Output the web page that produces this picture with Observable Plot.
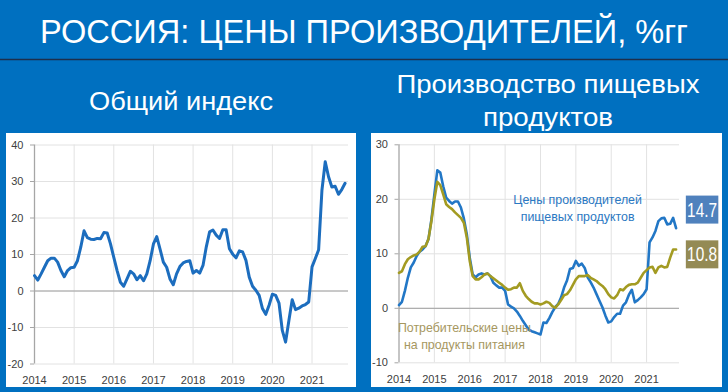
<!DOCTYPE html>
<html><head><meta charset="utf-8">
<script src="https://cdn.jsdelivr.net/npm/d3@7"></script>
<script src="https://cdn.jsdelivr.net/npm/@observablehq/plot@0.6"></script>
<style>
body{margin:0;background:#0070C0;}
#root{position:relative;width:728px;height:392px;background:#0070C0;overflow:hidden;}
.panel{position:absolute;background:#fff;}
.panel svg{display:block;}
</style></head><body>
<div id="root">
<svg id="header" width="728" height="132" style="position:absolute;left:0;top:0"></svg>
<div class="panel" id="left" style="left:6px;top:133px;width:350px;height:254px"></div>
<div class="panel" id="right" style="left:371px;top:133px;width:351px;height:254px"></div>
</div>
<script>
const FONT = "'Liberation Sans Narrow','Arial Narrow','Liberation Sans',sans-serif";

// ---- texts ----
const titleText = "РОССИЯ: ЦЕНЫ ПРОИЗВОДИТЕЛЕЙ, %гг";
const leftSubtitle = "Общий индекс";
const rightSubtitle = ["Производство пищевых", "продуктов"];
const years = [2014, 2015, 2016, 2017, 2018, 2019, 2020, 2021];
const leftYTicks = [-20, -10, 0, 10, 20, 30, 40];
const rightYTicks = [-10, 0, 10, 20, 30];
const producerLabel = "Цены производителей\nпищевых продуктов";
const consumerLabel = "Потребительские цены\nна продукты питания";

// ---- data: monthly, Jan 2014 .. Nov 2021 (% y/y) ----
const startYear = 2014;
const generalIndex = [
  4.2, 3.0, 4.7, 6.5, 8.3, 9.0, 9.0, 7.9, 5.6, 3.9, 5.6, 6.4,
  6.5, 8.3, 12.0, 16.5, 14.6, 14.2, 14.1, 14.4, 14.3, 16.0, 15.9, 12.9,
  9.2, 5.6, 2.4, 1.3, 3.3, 5.4, 4.7, 3.1, 4.2, 2.8, 4.7, 8.3,
  12.9, 14.9, 11.5, 7.9, 6.5, 3.3, 1.7, 4.7, 6.7, 7.7, 8.1, 8.3,
  4.9, 5.6, 4.9, 7.0, 12.1, 16.2, 16.7, 15.3, 14.4, 16.8, 16.8, 11.6,
  10.1, 9.1, 11.0, 10.7, 8.4, 3.8, 1.3, 0.2, -1.2, -4.8, -6.4, -3.9,
  -0.9, -1.2, -3.3, -10.8, -14.0, -8.1, -2.4, -5.1, -4.7, -4.1, -3.7, -3.0,
  6.6, 8.9, 11.3, 27.6, 35.4, 31.3, 28.5, 28.7, 26.5, 27.8, 29.5
];
const foodProducer = [
  0.6, 1.2, 3.2, 5.6, 7.5, 8.4, 9.6, 10.4, 10.8, 11.4, 12.7, 16.3,
  20.9, 25.3, 24.9, 22.4, 20.3, 19.7, 19.2, 19.6, 19.6, 18.5, 16.5, 13.6,
  9.3, 6.2, 5.7, 6.2, 6.4, 6.2, 6.4, 5.9, 4.7, 4.2, 3.8, 3.8,
  3.2, 0.7, 0.3, 0.0, -0.6, -1.4, -2.3, -3.1, -3.9, -4.2, -4.4, -4.6,
  -4.8, -2.6, -2.7, -1.8, -0.7, 0.2, 0.8, 2.0, 3.8, 5.1, 7.2, 7.4,
  8.7, 7.8, 8.2, 7.4, 5.7, 4.8, 3.8, 2.6, 1.4, 0.2, -1.3, -2.6,
  -2.4, -1.6, -1.0, -1.0, 0.5, 1.1, 2.5, 3.4, 1.1, 1.5, 2.0, 2.6,
  3.5, 12.1, 13.0, 14.2, 16.0, 16.5, 16.6, 15.4, 15.5, 16.6, 14.7
];
const foodConsumer = [
  6.5, 6.8, 8.1, 9.0, 9.4, 9.7, 9.9, 10.4, 11.3, 11.4, 12.7, 16.0,
  20.0, 23.2, 22.6, 20.9, 19.1, 18.6, 18.2, 17.6, 17.1, 16.6, 15.7, 13.0,
  8.7, 5.9, 5.3, 5.3, 5.7, 6.2, 6.4, 5.9, 5.5, 5.1, 4.7, 4.3,
  3.8, 3.4, 3.5, 3.8, 3.8, 4.6, 3.2, 2.3, 1.7, 1.2, 0.9, 0.9,
  0.7, 0.9, 1.2, 1.0, 0.4, 0.1, 0.7, 1.5, 2.4, 2.6, 3.3, 4.3,
  5.3, 5.9, 5.9, 5.9, 6.1, 5.6, 5.3, 5.0, 4.5, 4.1, 3.5, 2.6,
  2.0, 1.8, 2.4, 3.5, 3.3, 3.9, 4.3, 4.4, 4.4, 4.7, 5.6, 6.5,
  7.0, 7.5, 7.6, 6.5, 7.5, 7.8, 7.5, 7.6, 9.3, 10.8, 10.8
];
const lastLabels = ["14.7", "10.8"];

// ---- styles ----
const C = {
  blueLine: "#1C6DBE", blueLine2: "#2277C6", olive: "#A39B22",
  grid: "#e2e2e2", axis: "#a6a6a6", zero: "#a0a0a0", tick: "#404040",
  boxBlue: "#4F81BD", boxOlive: "#948A54", prodText: "#2B78C2", consText: "#A6975F"
};

const t = i => startYear + i / 12;
const rows = arr => arr.map((v, i) => ({x: t(i), y: v}));

// ---- header ----
const hdr = d3.select("#header");
function htext(txt, x, y, size, len) {
  hdr.append("text").attr("x", x).attr("y", y).attr("text-anchor", "middle")
    .attr("font-family", FONT).attr("font-size", size).attr("fill", "#fff")
    .attr("textLength", len).attr("lengthAdjust", "spacingAndGlyphs").text(txt);
}
htext(titleText, 364, 43, 34, 648);
hdr.append("line").attr("x1", 0).attr("x2", 728).attr("y1", 59.5).attr("y2", 59.5)
  .attr("stroke", "#1d2f4c").attr("stroke-width", 1.5);
htext(leftSubtitle, 181, 110, 26, 184);
htext(rightSubtitle[0], 548, 93, 26, 303);
htext(rightSubtitle[1], 548, 126, 26, 130);

function styleAxes(svg) {
  d3.select(svg).selectAll("[aria-label$='tick'] path, [aria-label$='tick'] line, .tick line")
    .attr("stroke", C.axis);
}

const tickFont = "11px";

// ---- left chart ----
const leftPlot = Plot.plot({
  width: 350, height: 254,
  marginLeft: 28, marginRight: 8, marginTop: 11.5, marginBottom: 23.5,
  style: {fontFamily: FONT, fontSize: tickFont, color: C.tick, background: "#fff", overflow: "visible"},
  x: {domain: [2014, 2021.92], ticks: years, tickFormat: d => String(d), tickSize: 0, tickPadding: 12, label: null},
  y: {domain: [-20, 40], ticks: leftYTicks, tickFormat: d => String(d), tickSize: 4, tickPadding: 7, label: null},
  marks: [
    Plot.ruleY(leftYTicks, {stroke: C.grid, strokeWidth: 1}),
    Plot.ruleX(years.slice(1), {stroke: C.grid, strokeWidth: 1}),
    Plot.ruleY([0], {stroke: C.zero, strokeWidth: 1}),
    Plot.ruleX([2014], {stroke: C.axis, strokeWidth: 1.3}),
    Plot.line(rows(generalIndex), {x: "x", y: "y", stroke: C.blueLine, strokeWidth: 3, curve: "linear"})
  ]
});
document.getElementById("left").appendChild(leftPlot);
styleAxes(leftPlot);

// ---- right chart ----
const lastI = foodProducer.length - 1;
const endRows = [
  {x: t(lastI), y: foodProducer[lastI], label: lastLabels[0], key: "b"},
  {x: t(lastI), y: foodConsumer[lastI], label: lastLabels[1], key: "o"}
];
const rightPlot = Plot.plot({
  width: 351, height: 254,
  marginLeft: 27.5, marginRight: 43, marginTop: 11.3, marginBottom: 24.7,
  style: {fontFamily: FONT, fontSize: tickFont, color: C.tick, background: "#fff", overflow: "visible"},
  x: {domain: [2014, 2021.93], ticks: years, tickFormat: d => String(d), tickSize: 0, tickPadding: 12, label: null},
  y: {domain: [-10, 30], ticks: rightYTicks, tickFormat: d => String(d), tickSize: 4, tickPadding: 7, label: null},
  marks: [
    Plot.ruleY(rightYTicks, {stroke: C.grid, strokeWidth: 1}),
    Plot.ruleX(years.slice(1), {stroke: C.grid, strokeWidth: 1}),
    Plot.ruleY([0], {stroke: C.zero, strokeWidth: 1}),
    Plot.ruleX([2014], {stroke: C.axis, strokeWidth: 1.3}),
    Plot.line(rows(foodProducer), {x: "x", y: "y", stroke: C.blueLine2, strokeWidth: 2.6}),
    Plot.line(rows(foodConsumer), {x: "x", y: "y", stroke: C.olive, strokeWidth: 2.6}),
    Plot.text([producerLabel], {x: 2019.05, y: 18.6, text: d => d, fill: C.prodText, fontSize: 12.4, lineHeight: 1.4}),
    Plot.text([consumerLabel], {x: 2015.85, y: -4.9, text: d => d, fill: C.consText, fontSize: 12.4, lineHeight: 1.4}),
    Plot.text(endRows.filter(d => d.key === "b"), {x: "x", y: "y", text: "label", dx: 26, dy: -18, fill: "#fff", fontSize: 20}),
    Plot.text(endRows.filter(d => d.key === "o"), {x: "x", y: "y", text: "label", dx: 26, dy: 5.5, fill: "#fff", fontSize: 20})
  ]
});
document.getElementById("right").appendChild(rightPlot);
styleAxes(rightPlot);

// boxes behind the end-value labels
d3.select(rightPlot).selectAll("text").each(function() {
  const txt = this.textContent;
  const idx = lastLabels.indexOf(txt);
  if (idx < 0) return;
  this.setAttribute("textLength", 30);
  this.setAttribute("lengthAdjust", "spacingAndGlyphs");
  const bb = this.getBBox();
  const h = 28, w = 32.5;
  const cx = bb.x + bb.width / 2, cy = bb.y + bb.height / 2;
  const r = d3.select(this.parentNode).insert("rect", () => this)
    .attr("x", cx - w / 2).attr("y", cy - h / 2).attr("width", w).attr("height", h)
    .attr("fill", idx === 0 ? C.boxBlue : C.boxOlive);
  const tr = this.getAttribute("transform");
  if (tr) r.attr("transform", tr);
});
</script>
</body></html>
